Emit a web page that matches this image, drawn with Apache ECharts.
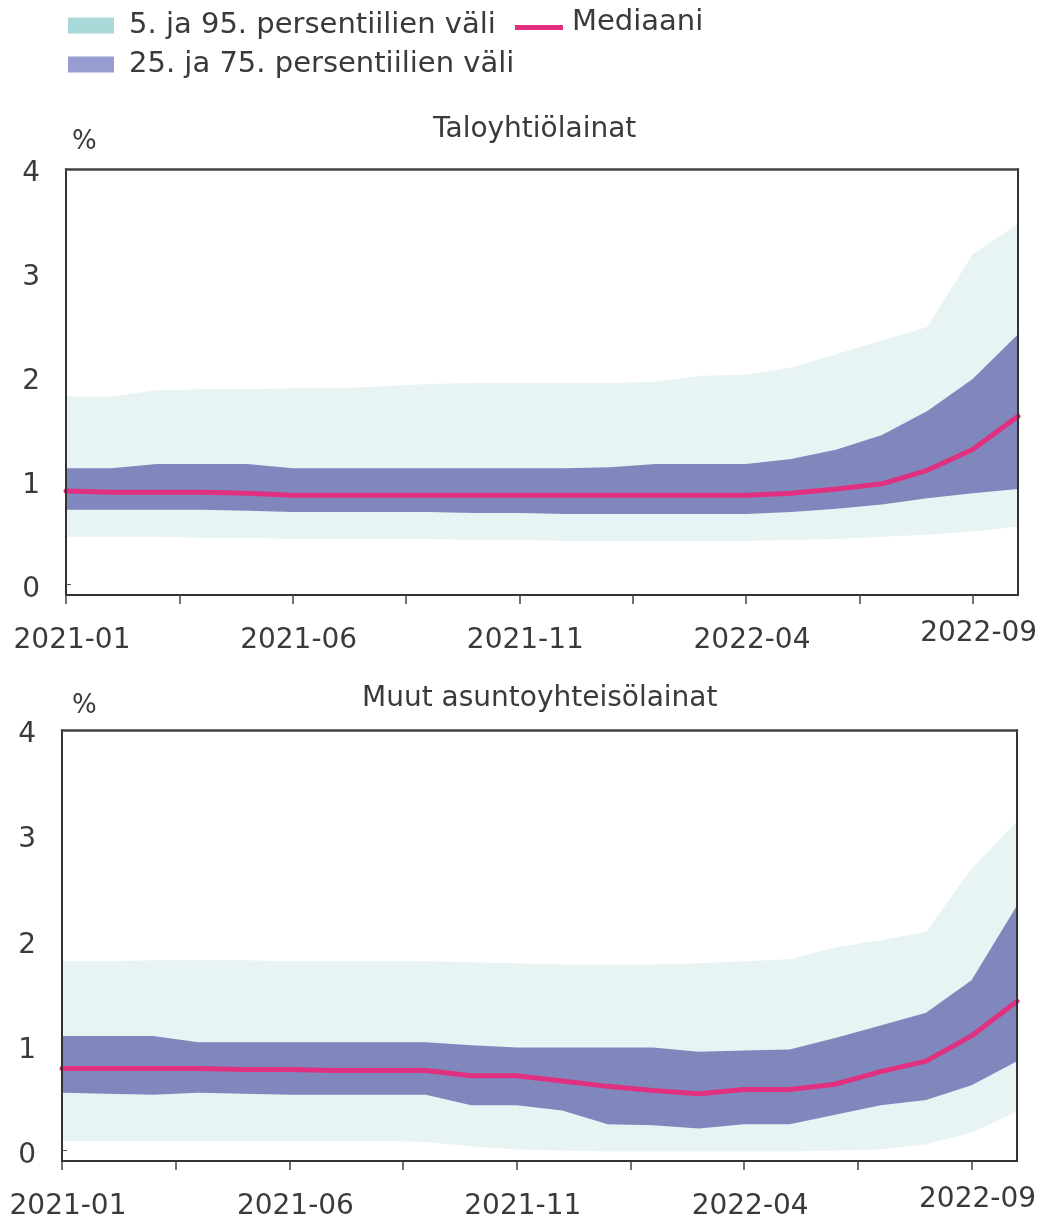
<!DOCTYPE html>
<html>
<head>
<meta charset="utf-8">
<script src="https://cdn.jsdelivr.net/npm/echarts@6/dist/echarts.min.js"></script>
<style>
  html, body { margin: 0; padding: 0; background: #ffffff; }
  #chart { width: 1046px; height: 1221px; }
</style>
</head>
<body>
<div id="chart"></div>
<script>
// Monthly observations, 2021-01 ... 2022-10
const months = ['2021-01','2021-02','2021-03','2021-04','2021-05','2021-06','2021-07','2021-08','2021-09','2021-10','2021-11','2021-12',
                '2022-01','2022-02','2022-03','2022-04','2022-05','2022-06','2022-07','2022-08','2022-09','2022-10'];
const labelMonths = [0, 5, 10, 15, 20];          // labelled months (index into months)
const tickMonths = [0, 2.5, 5, 7.5, 10, 12.5, 15, 17.5, 20];
const yTickValues = [0, 1, 2, 3, 4];

const panelTitles = ['Taloyhtiölainat', 'Muut asuntoyhteisölainat'];
const nameOuter = '5. ja 95. persentiilien väli';
const nameInner = '25. ja 75. persentiilien väli';
const nameMedian = 'Mediaani';

// Taloyhtiölainat, %
const p5A  = [0.46,0.46,0.46,0.45,0.45,0.44,0.44,0.44,0.44,0.43,0.43,0.42,0.42,0.42,0.42,0.42,0.43,0.44,0.46,0.48,0.51,0.56];
const p25A = [0.72,0.72,0.72,0.72,0.71,0.70,0.70,0.70,0.70,0.69,0.69,0.68,0.68,0.68,0.68,0.68,0.70,0.73,0.77,0.83,0.88,0.92];
const medA = [0.90,0.89,0.89,0.89,0.88,0.86,0.86,0.86,0.86,0.86,0.86,0.86,0.86,0.86,0.86,0.86,0.88,0.92,0.97,1.10,1.30,1.62];
const p75A = [1.12,1.12,1.16,1.16,1.16,1.12,1.12,1.12,1.12,1.12,1.12,1.12,1.13,1.16,1.16,1.16,1.21,1.30,1.44,1.67,1.98,2.41];
const p95A = [1.81,1.81,1.87,1.88,1.88,1.89,1.89,1.91,1.93,1.94,1.94,1.94,1.94,1.95,2.01,2.02,2.09,2.22,2.35,2.48,3.18,3.47];

// Muut asuntoyhteisölainat, %
const p5B  = [0.09,0.09,0.09,0.09,0.09,0.09,0.09,0.09,0.08,0.04,0.01,0.00,-0.01,-0.01,-0.01,-0.01,-0.01,0.00,0.01,0.06,0.17,0.37];
const p25B = [0.55,0.54,0.53,0.55,0.54,0.53,0.53,0.53,0.53,0.43,0.43,0.38,0.25,0.24,0.21,0.25,0.25,0.34,0.43,0.48,0.62,0.85];
const medB = [0.78,0.78,0.78,0.78,0.77,0.77,0.76,0.76,0.76,0.71,0.71,0.66,0.61,0.57,0.54,0.58,0.58,0.63,0.75,0.85,1.09,1.42];
const p75B = [1.09,1.09,1.09,1.03,1.03,1.03,1.03,1.03,1.03,1.00,0.98,0.98,0.98,0.98,0.94,0.95,0.96,1.07,1.19,1.31,1.62,2.33];
const p95B = [1.80,1.80,1.81,1.81,1.81,1.80,1.80,1.80,1.80,1.79,1.78,1.77,1.77,1.77,1.78,1.80,1.82,1.93,2.00,2.08,2.68,3.13];

const FONT = 'DejaVu Sans';
const TEXT = '#3a3a3a';
const OUTER_FILL = '#e8f3f3';
const INNER_FILL = '#7f87bd';
const OUTER_KEY = '#a9d9d9';
const INNER_KEY = '#979dd0';
const MEDIAN = '#e0307f';

const grids = [
  { left: 66, top: 169, width: 952, height: 426 },
  { left: 62, top: 730, width: 955, height: 435 }
];

const xAxes = [], yAxes = [], series = [];

const pairs = (arr) => arr.map((v, i) => [i, v]);

function addPanel(g, p5, p25, med, p75, p95) {
  const xBase = xAxes.length;
  const yBase = yAxes.length;
  // bottom axis with month labels
  xAxes.push({
    type: 'value', gridIndex: g, min: 0, max: months.length - 1, z: 20,
    axisLine: { show: true, onZero: false, lineStyle: { color: '#333', width: 2 } },
    axisTick: { show: true, customValues: tickMonths, length: 9, lineStyle: { color: '#444', width: 1.5 } },
    axisLabel: {
      customValues: labelMonths, margin: 32, fontFamily: FONT, fontSize: 28, color: TEXT,
      padding: [0, 0, 0, 12],
      formatter: (v) => v === 20 ? '{up|' + months[v] + '}' : months[v],
      rich: { up: { fontFamily: FONT, fontSize: 28, color: TEXT, lineHeight: 14 } }
    },
    splitLine: { show: false }
  });
  // top frame
  xAxes.push({
    type: 'value', gridIndex: g, position: 'top', min: 0, max: months.length - 1, z: 20,
    axisLine: { show: true, onZero: false, lineStyle: { color: '#444', width: 2.5 } },
    axisTick: { show: false }, axisLabel: { show: false }, splitLine: { show: false }
  });
  yAxes.push({
    type: 'value', gridIndex: g, min: -0.1, max: 4, z: 20,
    axisLine: { show: true, onZero: false, lineStyle: { color: '#333', width: 2 } },
    axisTick: { show: true, inside: true, customValues: [0], length: 5, lineStyle: { color: '#555' } },
    axisLabel: { customValues: yTickValues, margin: 26, fontFamily: FONT, fontSize: 28, color: TEXT,
                 verticalAlign: 'top', lineHeight: 10 },
    splitLine: { show: false }
  });
  // right frame
  yAxes.push({
    type: 'value', gridIndex: g, position: 'right', min: -0.1, max: 4, z: 20,
    axisLine: { show: true, onZero: false, lineStyle: { color: '#333', width: 2 } },
    axisTick: { show: false }, axisLabel: { show: false }, splitLine: { show: false }
  });

  // Nested bands painted from the outside in: every area fills down to the
  // axis floor, so each later layer cuts the previous one at its own edge.
  const base = { xAxisIndex: xBase, yAxisIndex: yBase, type: 'line', showSymbol: false, symbol: 'none', silent: true,
                 lineStyle: { width: 0, opacity: 0 } };
  const band = (name, data, fill, key, z) => Object.assign({}, base, {
    name, data: pairs(data), z,
    itemStyle: { color: key },
    areaStyle: { color: fill, opacity: 1, origin: 'start' }
  });
  series.push(band(nameOuter, p95, OUTER_FILL, OUTER_KEY, 1));
  series.push(band(nameInner, p75, INNER_FILL, INNER_KEY, 2));
  series.push(band('p25-' + g, p25, OUTER_FILL, OUTER_FILL, 3));
  series.push(band('p5-' + g, p5, '#ffffff', '#ffffff', 4));
  series.push({
    xAxisIndex: xBase, yAxisIndex: yBase, type: 'line', showSymbol: false, symbol: 'none', silent: true,
    name: nameMedian, data: pairs(med),
    lineStyle: { color: MEDIAN, width: 5, cap: 'round', join: 'round' },
    itemStyle: { color: MEDIAN }, z: 5
  });
}

addPanel(0, p5A, p25A, medA, p75A, p95A);
addPanel(1, p5B, p25B, medB, p75B, p95B);

const legendText = { fontFamily: FONT, fontSize: 29, color: TEXT, padding: [0, 0, 0, 10] };

const option = {
  backgroundColor: '#ffffff',
  animation: false,
  title: [
    { text: panelTitles[0], left: 428, top: 111, textStyle: { fontFamily: FONT, fontSize: 28, fontWeight: 'normal', color: TEXT } },
    { text: '%', left: 67, top: 124, textStyle: { fontFamily: FONT, fontSize: 26, fontWeight: 'normal', color: TEXT } },
    { text: panelTitles[1], left: 357, top: 680, textStyle: { fontFamily: FONT, fontSize: 28, fontWeight: 'normal', color: TEXT } },
    { text: '%', left: 67, top: 688, textStyle: { fontFamily: FONT, fontSize: 26, fontWeight: 'normal', color: TEXT } }
  ],
  legend: [
    { left: 63, top: 6, itemWidth: 46, itemHeight: 16, selectedMode: false, textStyle: legendText,
      data: [{ name: nameOuter, icon: 'rect', itemStyle: { color: OUTER_KEY } }] },
    { left: 510, top: 3, itemWidth: 48, itemHeight: 5, selectedMode: false,
      formatter: (name) => '{t|' + name + '}',
      textStyle: Object.assign({}, legendText, {
        padding: [0, 0, 0, 4],
        // the median key sits a little lower than its text
        rich: { t: { fontFamily: FONT, fontSize: 29, color: TEXT, padding: [0, 0, 10, 0] } }
      }),
      data: [{ name: nameMedian, icon: 'rect', itemStyle: { color: MEDIAN } }] },
    { left: 63, top: 45, itemWidth: 46, itemHeight: 16, selectedMode: false, textStyle: legendText,
      data: [{ name: nameInner, icon: 'rect', itemStyle: { color: INNER_KEY } }] }
  ],
  grid: grids.map(g => Object.assign({ show: false, containLabel: false }, g)),
  xAxis: xAxes,
  yAxis: yAxes,
  series: series
};

const chart = echarts.init(document.getElementById('chart'), null, { renderer: 'canvas' });
chart.setOption(option);
</script>
</body>
</html>
